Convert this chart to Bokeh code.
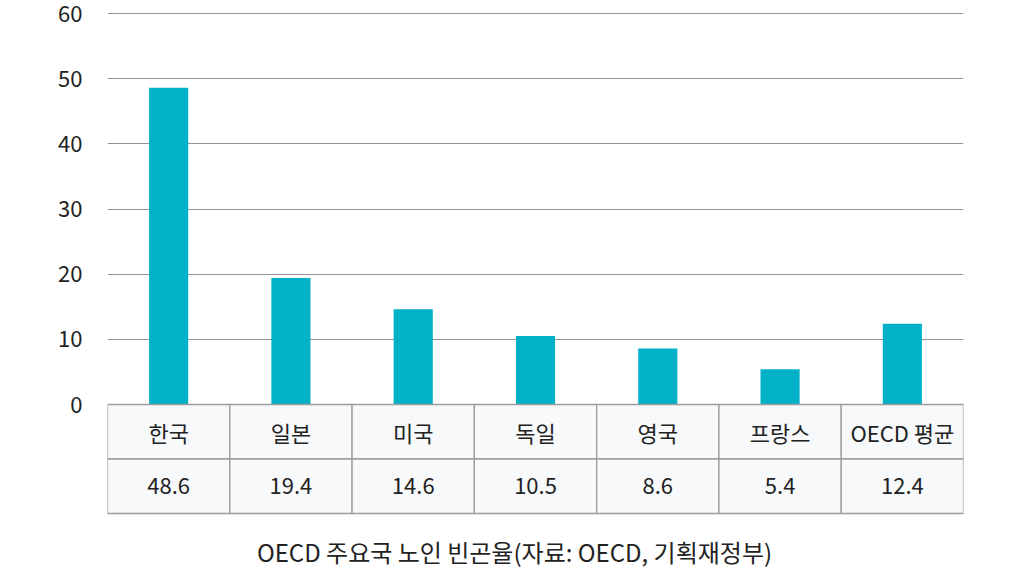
from bokeh.plotting import figure
from bokeh.models import Range1d, FixedTicker, ColumnDataSource, Label
from bokeh.core.properties import value
from bokeh.embed import file_html
from bokeh.resources import INLINE

# ---- data ----
categories = ["한국", "일본", "미국", "독일", "영국", "프랑스", "OECD 평균"]
rates = [48.6, 19.4, 14.6, 10.5, 8.6, 5.4, 12.4]
rate_labels = ["48.6", "19.4", "14.6", "10.5", "8.6", "5.4", "12.4"]
y_ticks = [0, 10, 20, 30, 40, 50, 60]
caption = "OECD 주요국 노인 빈곤율(자료: OECD, 기획재정부)"

# ---- layout (pixels) ----
W, H = 1024, 572
LEFT, RIGHT = 107, 61
PX_PER_UNIT = 391 / 60.0          # vertical pixels per data unit
TOP_PAD = 13                      # px between frame top and value 60
ZERO_PX = TOP_PAD + 391           # pixel row of value 0
ROW_PX = 54.5                     # table row height
FONT = "Noto Sans CJK KR"
BAR = "#00B1C7"
GRID = "#959595"
TXT = "#222222"

n = len(categories)
xs = [i + 0.5 for i in range(n)]
y_top = 60 + TOP_PAD / PX_PER_UNIT
y_bot = -(H - ZERO_PX) / PX_PER_UNIT
row = ROW_PX / PX_PER_UNIT

p = figure(width=W, height=H, output_backend="svg", toolbar_location=None,
           x_range=Range1d(0, n), y_range=Range1d(y_bot, y_top),
           x_axis_location=None, min_border_left=LEFT, min_border_right=RIGHT,
           min_border_top=0, min_border_bottom=0)
p.outline_line_color = None
p.xgrid.visible = False
p.ygrid.ticker = FixedTicker(ticks=y_ticks)
p.ygrid.grid_line_color = GRID
p.ygrid.grid_line_width = 1
p.yaxis.ticker = FixedTicker(ticks=y_ticks)
p.yaxis.axis_line_color = None
p.yaxis.major_tick_line_color = None
p.yaxis.minor_tick_line_color = None
p.yaxis.major_tick_out = 0
p.yaxis.major_tick_in = 0
p.yaxis.major_label_standoff = 25
p.yaxis.major_label_text_font = FONT
p.yaxis.major_label_text_font_size = "22px"
p.yaxis.major_label_text_color = TXT

src = ColumnDataSource(dict(x=xs, top=rates, cat=categories, lab=rate_labels,
                            hc=[-row / 2] * n, vc=[-row * 1.5] * n))

# bars
p.vbar(x="x", top="top", bottom=0, width=0.32, source=src,
       fill_color=BAR, line_color=None)

# table cells
p.vbar(x="x", top=0, bottom=-row, width=1, source=src,
       fill_color="#f7f9fb", line_color="#9c9c9c", line_width=1.3)
p.vbar(x="x", top=-row, bottom=-2 * row, width=1, source=src,
       fill_color="#f7f9fb", line_color="#9c9c9c", line_width=1.3)

p.text(x="x", y="hc", text="cat", source=src, text_align="center",
       text_baseline="middle", text_font=value(FONT), text_font_size="22px",
       text_color=TXT)
p.text(x="x", y="vc", text="lab", source=src, text_align="center",
       text_baseline="middle", text_font=value(FONT), text_font_size="22px",
       text_color=TXT)

# caption centred on the page
cap_x = (514 - LEFT) / ((W - LEFT - RIGHT) / n)
cap_y = -(551 - ZERO_PX) / PX_PER_UNIT
p.add_layout(Label(x=cap_x, y=cap_y, text=caption, text_align="center",
                   text_baseline="middle", text_font=FONT,
                   text_font_size="24px", text_color=TXT))

open("out.html", "w").write(file_html(p, INLINE))
